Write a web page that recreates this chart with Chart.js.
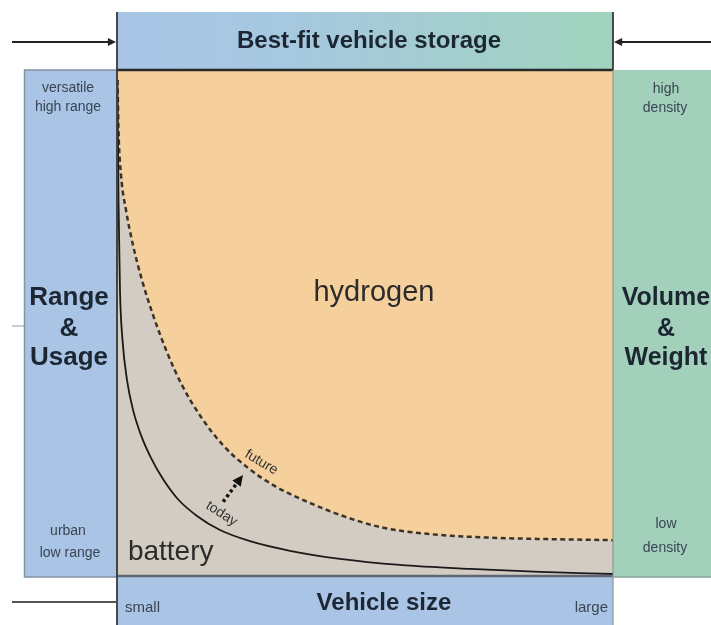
<!DOCTYPE html>
<html>
<head>
<meta charset="utf-8">
<script src="https://cdn.jsdelivr.net/npm/chart.js@4.4.0/dist/chart.umd.min.js"></script>
<style>
html, body { margin: 0; padding: 0; background: #fff; }
</style>
</head>
<body>
<canvas id="grafico" width="711" height="625"></canvas>
<script>
// vehicle size (0 = small, 100 = large) and range/usage need (0 = urban, 100 = versatile)
const todaySize = [0.10, 0.30, 0.60, 1.11, 2.02, 3.23, 4.84, 6.85, 9.27, 12.30, 16.13, 20.77, 26.81, 34.88, 44.96, 57.06, 71.17, 85.28, 100];
const todayRange = [98.0, 74.3, 56.4, 46.5, 38.6, 32.7, 27.7, 23.2, 19.0, 15.0, 11.7, 8.9, 6.7, 4.8, 3.2, 2.0, 1.2, 0.6, 0.2];

const futureSize = [0.10, 0.30, 0.81, 1.81, 3.23, 5.04, 7.26, 9.88, 13.10, 16.94, 21.37, 26.41, 31.85, 37.90, 44.96, 53.02, 63.10, 75.20, 87.30, 100];
const futureRange = [98.0, 88.1, 79.2, 72.3, 65.3, 58.4, 51.5, 44.6, 37.6, 31.3, 25.7, 21.2, 17.6, 14.7, 11.9, 9.5, 8.1, 7.4, 7.1, 6.9];

const titulo = 'Best-fit vehicle storage';
const ejeX = 'Vehicle size';
const ticksX = ['small', 'large'];
const ejeIzq = ['Range', '&', 'Usage'];
const ticksIzq = [['versatile', 'high range'], ['urban', 'low range']];
const ejeDer = ['Volume', '&', 'Weight'];
const ticksDer = [['high', 'density'], ['low', 'density']];
const zonas = ['hydrogen', 'battery'];
const curvas = ['today', 'future'];

const FONT = '"Liberation Sans", Arial, sans-serif';
const naranja = '#F6D09C';
const gris = '#D3CCC2';

const toPoints = (xs, ys) => xs.map((x, i) => ({x: x, y: ys[i]}));

const flecha = (ctx, x1, y1, x2, y2, size) => {
    const ang = Math.atan2(y2 - y1, x2 - x1);
    ctx.beginPath();
    ctx.moveTo(x2, y2);
    ctx.lineTo(x2 - size * Math.cos(ang - 0.45), y2 - size * Math.sin(ang - 0.45));
    ctx.lineTo(x2 - size * Math.cos(ang + 0.45), y2 - size * Math.sin(ang + 0.45));
    ctx.closePath();
    ctx.fill();
};

const texto = (ctx, txt, x, y, font, color, align) => {
    ctx.font = font;
    ctx.fillStyle = color;
    ctx.textAlign = align || 'center';
    ctx.textBaseline = 'alphabetic';
    ctx.fillText(txt, x, y);
};

const panelesPlugin = {
    id: 'paneles',
    beforeDraw(chart) {
        const {ctx, chartArea: a} = chart;
        ctx.save();
        ctx.fillStyle = '#fff';
        ctx.fillRect(0, 0, chart.width, chart.height);
        ctx.fillStyle = naranja;
        ctx.fillRect(a.left, a.top, a.right - a.left, a.bottom - a.top);
        ctx.restore();
    },
    afterDraw(chart) {
        const {ctx, chartArea: a, scales} = chart;
        const W = chart.width, H = chart.height;
        ctx.save();

        // top band
        const grad = ctx.createLinearGradient(a.left, 0, a.right, 0);
        grad.addColorStop(0, '#A8C5E6');
        grad.addColorStop(0.35, '#A6C8E0');
        grad.addColorStop(1, '#A0D3BC');
        ctx.fillStyle = grad;
        ctx.fillRect(a.left, 12, a.right - a.left, a.top - 12);

        // left panel
        ctx.fillStyle = '#A9C4E5';
        ctx.fillRect(24, a.top, a.left - 24, a.bottom + 2 - a.top);
        ctx.strokeStyle = '#8593a3';
        ctx.lineWidth = 1.5;
        ctx.strokeRect(24.5, a.top, a.left - 24.5, a.bottom + 2 - a.top);

        // right panel
        ctx.fillStyle = '#A2D0BB';
        ctx.fillRect(a.right, a.top, W - a.right, a.bottom + 2 - a.top);
        ctx.strokeStyle = '#86a597';
        ctx.beginPath();
        ctx.moveTo(a.right, a.bottom + 2);
        ctx.lineTo(W, a.bottom + 2);
        ctx.stroke();

        // bottom band
        ctx.fillStyle = '#A9C4E5';
        ctx.fillRect(a.left, a.bottom + 2, a.right - a.left, H - a.bottom - 2);

        // borders
        ctx.strokeStyle = '#2a2a2a';
        ctx.lineWidth = 2.5;
        ctx.beginPath();
        ctx.moveTo(a.left, a.top);
        ctx.lineTo(a.right, a.top);
        ctx.stroke();
        ctx.strokeStyle = '#5f6872';
        ctx.beginPath();
        ctx.moveTo(a.left, a.bottom + 1);
        ctx.lineTo(a.right, a.bottom + 1);
        ctx.stroke();
        ctx.lineWidth = 1.8;
        ctx.strokeStyle = '#3a3a3a';
        ctx.beginPath();
        ctx.moveTo(a.left, 12);
        ctx.lineTo(a.left, H);
        ctx.moveTo(a.right, 12);
        ctx.lineTo(a.right, a.top);
        ctx.stroke();
        ctx.strokeStyle = '#8a9a94';
        ctx.lineWidth = 1.2;
        ctx.beginPath();
        ctx.moveTo(a.right, a.top);
        ctx.lineTo(a.right, H);
        ctx.stroke();

        // side arrows and rules
        ctx.strokeStyle = '#222';
        ctx.fillStyle = '#222';
        ctx.lineWidth = 2;
        ctx.beginPath();
        ctx.moveTo(12, 42);
        ctx.lineTo(a.left - 6, 42);
        ctx.moveTo(W, 42);
        ctx.lineTo(a.right + 6, 42);
        ctx.stroke();
        flecha(ctx, 12, 42, a.left - 1, 42, 9);
        flecha(ctx, W, 42, a.right + 1, 42, 9);
        ctx.strokeStyle = '#555';
        ctx.beginPath();
        ctx.moveTo(12, 602);
        ctx.lineTo(a.left, 602);
        ctx.stroke();
        ctx.strokeStyle = '#999';
        ctx.lineWidth = 1;
        ctx.beginPath();
        ctx.moveTo(12, 326);
        ctx.lineTo(24, 326);
        ctx.stroke();

        // band texts
        const oscuro = '#1c2733';
        const medio = '#3a4552';
        texto(ctx, titulo, 369, 48, 'bold 24px ' + FONT, oscuro);
        texto(ctx, ejeX, 384, 610, 'bold 24px ' + FONT, oscuro);
        texto(ctx, ticksX[0], 125, 612, '15px ' + FONT, medio, 'left');
        texto(ctx, ticksX[1], 608, 612, '15px ' + FONT, medio, 'right');

        const lineasY = [305, 336, 365];
        ejeIzq.forEach((t, i) => texto(ctx, t, 69, lineasY[i], 'bold 26px ' + FONT, oscuro));
        ejeDer.forEach((t, i) => texto(ctx, t, 666, lineasY[i], 'bold 25px ' + FONT, oscuro));

        texto(ctx, ticksIzq[0][0], 68, 92, '14px ' + FONT, medio);
        texto(ctx, ticksIzq[0][1], 68, 111, '14px ' + FONT, medio);
        texto(ctx, ticksIzq[1][0], 68, 535, '14px ' + FONT, medio);
        texto(ctx, ticksIzq[1][1], 70, 557, '14px ' + FONT, medio);
        texto(ctx, ticksDer[0][0], 666, 93, '14px ' + FONT, medio);
        texto(ctx, ticksDer[0][1], 665, 112, '14px ' + FONT, medio);
        texto(ctx, ticksDer[1][0], 666, 528, '14px ' + FONT, medio);
        texto(ctx, ticksDer[1][1], 665, 552, '14px ' + FONT, medio);

        // region labels placed in data units
        const px = v => scales.x.getPixelForValue(v);
        const py = v => scales.y.getPixelForValue(v);
        texto(ctx, zonas[0], px(51.8), py(54.2), '29px ' + FONT, '#2b2b2b');
        texto(ctx, zonas[1], px(2.2), py(2.9), '28px ' + FONT, '#2b2b2b', 'left');

        // curve labels
        const rotado = (txt, x, y, deg) => {
            ctx.save();
            ctx.translate(px(x), py(y));
            ctx.rotate(deg * Math.PI / 180);
            texto(ctx, txt, 0, 5, '14px ' + FONT, '#333');
            ctx.restore();
        };
        rotado(curvas[0], 21.2, 12.3, 33);
        rotado(curvas[1], 29.2, 22.5, 31);

        // improvement arrow today -> future
        const x1 = px(21.4), y1 = py(14.5), x2 = px(25.4), y2 = py(19.8);
        ctx.strokeStyle = '#111';
        ctx.fillStyle = '#111';
        ctx.lineWidth = 3.5;
        ctx.setLineDash([3, 3]);
        ctx.beginPath();
        ctx.moveTo(x1, y1);
        ctx.lineTo(x1 + (x2 - x1) * 0.7, y1 + (y2 - y1) * 0.7);
        ctx.stroke();
        ctx.setLineDash([]);
        flecha(ctx, x1, y1, x2, y2, 12);

        ctx.restore();
    }
};

new Chart(document.getElementById('grafico'), {
    type: 'line',
    data: {
        datasets: [{
            label: curvas[1],
            data: toPoints(futureSize, futureRange),
            borderColor: '#3b3328',
            borderWidth: 2.5,
            borderDash: [5, 3.5],
            backgroundColor: gris,
            fill: 'start',
            pointRadius: 0,
            order: 2,
            cubicInterpolationMode: 'monotone'
        }, {
            label: curvas[0],
            data: toPoints(todaySize, todayRange),
            borderColor: '#1a1a1a',
            borderWidth: 1.8,
            fill: false,
            pointRadius: 0,
            order: 1,
            cubicInterpolationMode: 'monotone'
        }]
    },
    options: {
        responsive: false,
        animation: false,
        devicePixelRatio: 1,
        layout: {
            padding: {left: 117, right: 98, top: 70, bottom: 50}
        },
        scales: {
            x: {type: 'linear', min: 0, max: 100, display: false},
            y: {type: 'linear', min: 0, max: 100, display: false}
        },
        plugins: {
            legend: {display: false},
            tooltip: {enabled: false}
        }
    },
    plugins: [panelesPlugin]
});
</script>
</body>
</html>
